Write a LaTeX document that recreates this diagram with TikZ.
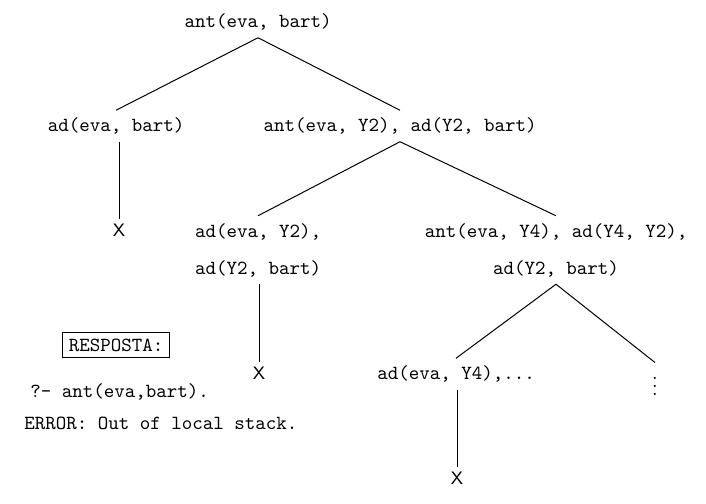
\documentclass[tikz,border=0pt]{standalone}
\begin{document}
\begin{tikzpicture}[x=0.5pt,y=-0.5pt,
  tt/.style={font={\ttfamily\fontsize{10}{18.5}\selectfont},inner sep=3.5pt},
  xmark/.style={font={\sffamily\fontsize{9}{11}\selectfont},inner sep=2pt},
  edge/.style={line width=0.5pt}]
\useasboundingbox (0,0) rectangle (706,503);
\node[tt] (root) at (258,22) {ant(eva, bart)};
\node[tt] (a) at (116,126) {ad(eva, bart)};
\node[tt] (b) at (400,126) {ant(eva, Y2), ad(Y2, bart)};
\node[xmark] (xa) at (119,230) {X};
\node[tt,align=left] (c) at (258,250) {ad(eva, Y2),\\ad(Y2, bart)};
\node[tt,align=center] (d) at (556,250) {ant(eva, Y4), ad(Y4, Y2),\\ad(Y2, bart)};
\node[xmark] (xc) at (259,373) {X};
\node[tt] (e) at (456,374) {ad(eva, Y4),...};
\node[inner sep=1pt] (f) at (655,380) {$\vdots$};
\node[xmark] (xe) at (457,478) {X};
\node[tt,draw,line width=0.5pt,inner sep=3pt] (resp) at (116,345) {RESPOSTA:};
\node[tt,anchor=west,inner sep=0pt] (q) at (30,392) {?- ant(eva,bart).};
\node[tt,anchor=west,inner sep=0pt] (err) at (24,423) {ERROR: Out of local stack.};
\draw[edge] (root.south) -- (a.north);
\draw[edge] (root.south) -- (b.north);
\draw[edge] (a.south -| xa) -- (xa.north);
\draw[edge] (b.south) -- (c.north);
\draw[edge] (b.south) -- (d.north);
\draw[edge] (c.south -| xc) -- (xc.north);
\draw[edge] (d.south) -- (e.north);
\draw[edge] (d.south) -- (f.north);
\draw[edge] (e.south -| xe) -- (xe.north);
\end{tikzpicture}
\end{document}
